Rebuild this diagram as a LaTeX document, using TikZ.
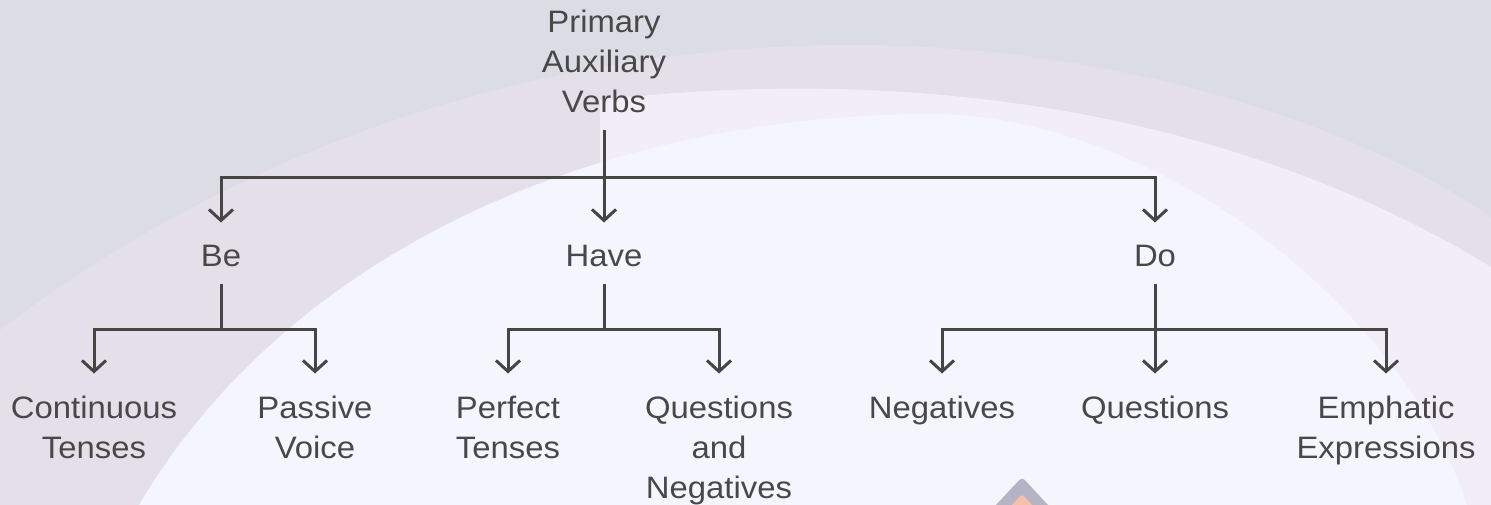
\documentclass[tikz,border=0pt]{standalone}
\usepackage{fontspec}
\setmainfont[FakeStretch=1.06]{Liberation Sans}
\usetikzlibrary{arrows.meta}
\definecolor{bggray}{HTML}{DCDCE4}
\definecolor{bglav}{HTML}{E4E0EA}
\definecolor{bgpink}{HTML}{F1EEF7}
\definecolor{bgwhite}{HTML}{F5F5FD}
\definecolor{linec}{HTML}{454545}
\definecolor{textc}{HTML}{484848}
\definecolor{logogray}{HTML}{B4B4C4}
\definecolor{peach}{HTML}{F6C2A4}
\tikzset{
  lab/.style={font=\fontsize{31}{40}\selectfont, text=textc, align=center, inner sep=0pt, anchor=north},
  ln/.style={draw=linec, line width=3pt},
  arr/.style={ln, -{Straight Barb[length=11pt,width=24pt,line width=3pt]}, shorten >=22pt},
}
\begin{document}
\begin{tikzpicture}[x=1pt,y=-1pt]
\useasboundingbox (0,0) rectangle (1491,505);
\begin{scope}
\clip (0,0) rectangle (1491,505);
\fill[bggray] (0,0) rectangle (1491,505);
\fill[bglav] (0,330) .. controls (250,140) and (550,45) .. (850,45) .. controls (1150,45) and (1380,140) .. (1491,217) -- (1491,505) -- (0,505) -- cycle;
\fill[bgpink] (600,100) .. controls (1000,55) and (1300,150) .. (1491,267) -- (1491,505) -- (600,505) -- cycle;
\fill[bgwhite] (139,505) .. controls (290,250) and (600,115) .. (930,114) .. controls (1150,114) and (1400,300) .. (1467,505) -- cycle;
\fill[logogray, rounded corners=4pt] (982,520) -- (1022,477) -- (1062,520) -- cycle;
\fill[peach, rounded corners=3pt] (998,520) -- (1022,494) -- (1046,520) -- cycle;
\end{scope}

\node[lab] (root) at (604,9.5) {Primary\\Auxiliary\\Verbs};
\node[lab] (be) at (221,244.5) {Be};
\node[lab] (have) at (604,244.5) {Have};
\node[lab] (do) at (1155,244.5) {Do};
\node[lab] (ct) at (94,395.5) {Continuous\\Tenses};
\node[lab] (pv) at (315,395.5) {Passive\\Voice};
\node[lab] (pt) at (508,395.5) {Perfect\\Tenses};
\node[lab] (qn) at (719,395.5) {Questions\\and\\Negatives};
\node[lab] (neg) at (942,395.5) {Negatives};
\node[lab] (qs) at (1155,395.5) {Questions};
\node[lab] (emp) at (1386,395.5) {Emphatic\\Expressions};

\coordinate (j0) at (604,178);
\coordinate (j1) at (221,329);
\coordinate (j2) at (604,329);
\coordinate (j3) at (1155,329);

\draw[arr, shorten <=17pt] (root.south) -- (have.north);
\draw[arr] (j0) -| (be.north);
\draw[arr] (j0) -| (do.north);

\draw[ln, shorten <=17pt] (be.south) -- (j1);
\draw[arr] (j1) -| (ct.north);
\draw[arr] (j1) -| (pv.north);

\draw[ln, shorten <=17pt] (have.south) -- (j2);
\draw[arr] (j2) -| (pt.north);
\draw[arr] (j2) -| (qn.north);

\draw[arr, shorten <=17pt] (do.south) -- (qs.north);
\draw[arr] (j3) -| (neg.north);
\draw[arr] (j3) -| (emp.north);
\end{tikzpicture}
\end{document}
